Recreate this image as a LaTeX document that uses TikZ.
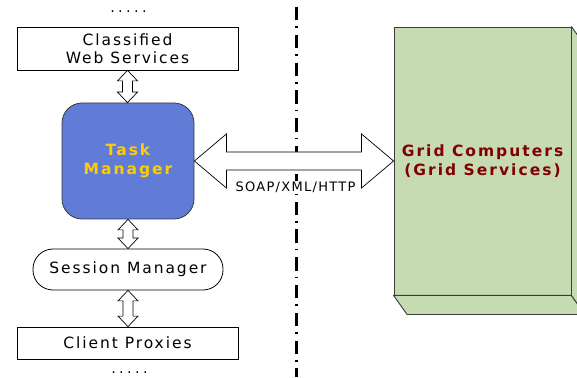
\documentclass[tikz,border=0pt]{standalone}
\usepackage{fontspec}
\usetikzlibrary{calc}
\newfontfamily\lblfont[LetterSpace=12.5]{DejaVu Sans}
\newfontfamily\boldfont[LetterSpace=13]{DejaVu Sans Bold}
\newfontfamily\dotfont[LetterSpace=23]{DejaVu Sans}
\newfontfamily\protofont[LetterSpace=10]{DejaVu Sans}

\definecolor{taskblue}{RGB}{97,124,214}
\definecolor{taskgold}{RGB}{255,204,0}
\definecolor{gridgreen}{RGB}{198,219,178}
\definecolor{griddark}{RGB}{128,0,0}
\definecolor{edgegray}{RGB}{60,60,60}

% vertical two-headed block arrow from the bottom of #1 to the top of #2
\newcommand\vlink[2]{%
  \draw[blockarrow] let \p1=(#1.south), \p2=(#2.north) in
    (\p1) -- ({\x1+10pt},{\y1-10.5pt}) -- ({\x1+5pt},{\y1-10.5pt})
    -- ({\x1+5pt},{\y2+10.5pt}) -- ({\x1+10pt},{\y2+10.5pt}) -- (\x1,\y2)
    -- ({\x1-10pt},{\y2+10.5pt}) -- ({\x1-5pt},{\y2+10.5pt})
    -- ({\x1-5pt},{\y1-10.5pt}) -- ({\x1-10pt},{\y1-10.5pt}) -- cycle;}

\begin{document}
\begin{tikzpicture}[x=1pt,y=1pt,
  lbl/.style={font={\lblfont\fontsize{15.5}{18}\selectfont}},
  boldlbl/.style={font={\boldfont\fontsize{15.5}{18.5}\selectfont}},
  box/.style={lbl, draw=black, line width=0.8pt, fill=white, align=center, inner sep=0pt},
  blockarrow/.style={draw=black, line width=0.7pt, fill=white, line join=miter},
  separator/.style={line width=2.4pt, dash pattern=on 13.5pt off 6pt on 1.6pt off 6.7pt},
  dots/.style={font={\dotfont\fontsize{14.5}{18}\selectfont}, inner sep=0pt}
]
\useasboundingbox (0,0) rectangle (577,377);

% client-side components
\node[dots] (topdots) at (128.5,365.5) {.....};
\node[box, minimum width=221pt, minimum height=43pt] (cws) at (127.5,328.5)
  {Classified\\Web Services};
\node[boldlbl, draw=edgegray, line width=0.8pt, fill=taskblue, text=taskgold,
      rounded corners=20pt, align=center, minimum width=132pt, minimum height=116pt,
      inner sep=0pt] (task) at (128,216) {Task\\Manager};
\node[box, rounded corners=20pt, minimum width=190pt, minimum height=41pt]
  (sess) at (128,107.5) {Session Manager};
\node[box, minimum width=221pt, minimum height=32pt] (cp) at (127.5,34)
  {Client Proxies};
\node[dots] (botdots) at (129.5,4.5) {.....};

% boundary between the two sides
\coordinate (septop) at (296.5,370);
\coordinate (sepbot) at (296.5,0);
\draw[separator] (septop) -- (sepbot);

% grid side: a box drawn in perspective
\node[boldlbl, draw=edgegray, line width=0.9pt, fill=gridgreen, text=griddark,
      align=center, minimum width=177pt, minimum height=268pt, inner sep=0pt]
  (grid) at (482.5,216) {Grid Computers\\(Grid Services)};
\draw[draw=edgegray, line width=0.9pt, fill=gridgreen, line join=round]
  (grid.south west) -- (grid.south east) -- ($(grid.south east)+(13.5,-19)$)
  -- ($(grid.south west)+(13.5,-19)$) -- cycle;
\draw[draw=edgegray, line width=0.9pt, fill=gridgreen, line join=round]
  (grid.north east) -- ($(grid.north east)+(13.5,-19)$)
  -- ($(grid.south east)+(13.5,-19)$) -- (grid.south east) -- cycle;

% links
\vlink{cws}{task}
\vlink{task}{sess}
\vlink{sess}{cp}

\draw[blockarrow] let \p1=(task.east), \p2=(grid.west) in
  (\p1) -- ({\x1+32pt},{\y1+27pt}) -- ({\x1+32pt},{\y1+9pt})
  -- ({\x2-32pt},{\y2+9pt}) -- ({\x2-32pt},{\y2+27pt}) -- (\p2)
  -- ({\x2-32pt},{\y2-27pt}) -- ({\x2-32pt},{\y2-9pt})
  -- ({\x1+32pt},{\y1-9pt}) -- ({\x1+32pt},{\y1-27pt}) -- cycle;
\node[font={\protofont\fontsize{13}{15}\selectfont}, fill=white, inner sep=1pt]
  (proto) at (295.5,189.5) {SOAP/XML/HTTP};
\end{tikzpicture}
\end{document}
